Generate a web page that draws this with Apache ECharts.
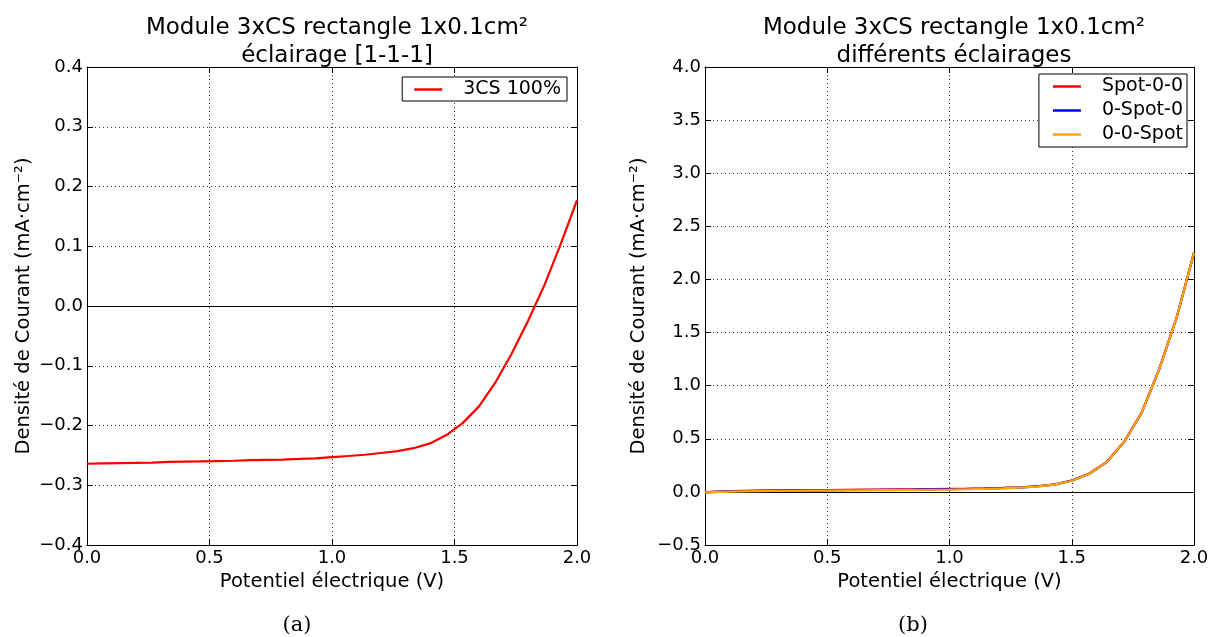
<!DOCTYPE html>
<html>
<head>
<meta charset="utf-8">
<script src="https://cdn.jsdelivr.net/npm/echarts@6/dist/echarts.min.js"></script>
<style>
  html, body { margin: 0; padding: 0; background: #fff; }
  #chart { width: 1213px; height: 637px; }
</style>
</head>
<body>
<div id="chart"></div>
<script>
// Panel (a): illumination [1-1-1], voltage steps of 1/15 V
const voltageA = [0, 0.067, 0.133, 0.2, 0.267, 0.333, 0.4, 0.467, 0.533, 0.6,
  0.667, 0.733, 0.8, 0.867, 0.933, 1.0, 1.067, 1.133, 1.2, 1.267,
  1.333, 1.4, 1.467, 1.533, 1.6, 1.667, 1.733, 1.8, 1.867, 1.933, 2.0];
const current3CS = [-0.264, -0.2635, -0.263, -0.2625, -0.262, -0.261, -0.2605, -0.260, -0.2595, -0.259,
  -0.258, -0.2575, -0.257, -0.256, -0.255, -0.253, -0.251, -0.249, -0.246, -0.243,
  -0.238, -0.230, -0.216, -0.196, -0.168, -0.128, -0.080, -0.025, 0.035, 0.103, 0.177];

// Panel (b): different illuminations, voltage steps of 1/14 V
const voltageB = [0, 0.071, 0.143, 0.214, 0.286, 0.357, 0.429, 0.5, 0.571, 0.643,
  0.714, 0.786, 0.857, 0.929, 1.0, 1.071, 1.143, 1.214, 1.286, 1.357,
  1.429, 1.5, 1.571, 1.643, 1.714, 1.786, 1.857, 1.929, 2.0];
const currentSpot00 = [-0.003, 0.004, 0.009, 0.012, 0.014, 0.016, 0.017, 0.018, 0.020, 0.021,
  0.022, 0.023, 0.024, 0.026, 0.028, 0.030, 0.033, 0.037, 0.043, 0.053,
  0.070, 0.107, 0.171, 0.281, 0.471, 0.746, 1.151, 1.641, 2.251];
const current0Spot0 = [-0.004, 0.002, 0.006, 0.009, 0.011, 0.013, 0.014, 0.015, 0.017, 0.018,
  0.019, 0.020, 0.021, 0.023, 0.025, 0.027, 0.030, 0.035, 0.041, 0.051,
  0.069, 0.106, 0.170, 0.280, 0.470, 0.745, 1.150, 1.640, 2.250];
const current00Spot = [-0.005, 0.000, 0.004, 0.007, 0.009, 0.010, 0.011, 0.012, 0.014, 0.015,
  0.016, 0.017, 0.018, 0.020, 0.022, 0.025, 0.028, 0.033, 0.040, 0.050,
  0.068, 0.105, 0.170, 0.280, 0.470, 0.745, 1.150, 1.640, 2.250];

const titleLine1 = 'Module 3xCS rectangle 1x0.1cm²';
const titleA = 'éclairage [1-1-1]';
const titleB = 'différents éclairages';
const xName = 'Potentiel électrique (V)';
const yName = 'Densité de Courant (mA·cm⁻²)';

const FONT = 'DejaVu Sans';
const pairs = (xs, ys) => xs.map((x, i) => [x, ys[i]]);
const fmt = v => v.toFixed(1).replace('-', '\u2212');

const gridA = { left: 87, top: 67, width: 490, height: 478 };
const gridB = { left: 705, top: 67, width: 489, height: 478 };

function mainX(gi) {
  return {
    type: 'value', gridIndex: gi, min: 0, max: 2, interval: 0.5,
    name: xName, nameLocation: 'middle', nameGap: 23,
    nameTextStyle: { fontFamily: FONT, fontSize: 19.5, color: '#000' },
    axisLine: { show: true, onZero: false, lineStyle: { color: '#000', width: 1 } },
    axisTick: { show: true, inside: true, length: 6, lineStyle: { color: '#000' } },
    axisLabel: { fontFamily: FONT, fontSize: 18, color: '#000', margin: 4, formatter: fmt },
    splitLine: { show: true, lineStyle: { color: '#333', type: [1, 3], width: 1 } }
  };
}
function topX(gi) {
  return {
    type: 'value', gridIndex: gi, position: 'top', min: 0, max: 2, interval: 0.5,
    axisLine: { show: true, onZero: false, lineStyle: { color: '#000', width: 1 } },
    axisTick: { show: true, inside: true, length: 6, lineStyle: { color: '#000' } },
    axisLabel: { show: false }, splitLine: { show: false }
  };
}
function mainY(gi, min, max, interval, gap) {
  return {
    type: 'value', gridIndex: gi, min: min, max: max, interval: interval,
    name: yName, nameLocation: 'middle', nameGap: gap, nameRotate: 90,
    nameTextStyle: { fontFamily: FONT, fontSize: 19.5, color: '#000' },
    axisLine: { show: true, onZero: false, lineStyle: { color: '#000', width: 1 } },
    axisTick: { show: true, inside: true, length: 6, lineStyle: { color: '#000' } },
    axisLabel: { fontFamily: FONT, fontSize: 18, color: '#000', margin: 4, formatter: fmt },
    splitLine: { show: true, lineStyle: { color: '#333', type: [1, 3], width: 1 } }
  };
}
function rightY(gi, min, max, interval) {
  return {
    type: 'value', gridIndex: gi, position: 'right', min: min, max: max, interval: interval,
    axisLine: { show: true, onZero: false, lineStyle: { color: '#000', width: 1 } },
    axisTick: { show: true, inside: true, length: 6, lineStyle: { color: '#000' } },
    axisLabel: { show: false }, splitLine: { show: false }
  };
}

const zeroLine = {
  silent: true, symbol: 'none', label: { show: false },
  lineStyle: { color: '#000', width: 1, type: 'solid' },
  data: [{ yAxis: 0 }]
};

function lineSeries(name, xi, yi, data, color, z, withZero) {
  const s = {
    name: name, type: 'line', xAxisIndex: xi, yAxisIndex: yi,
    data: data, showSymbol: false, symbol: 'none', z: z,
    lineStyle: { color: color, width: 2.2 }, itemStyle: { color: color },
    animation: false
  };
  if (withZero) s.markLine = zeroLine;
  return s;
}

const legendCommon = {
  orient: 'vertical', backgroundColor: '#fff', borderColor: '#000', borderWidth: 1,
  icon: 'rect', itemWidth: 28, itemHeight: 2.5,
  textStyle: { fontFamily: FONT, fontSize: 19, color: '#000', padding: [0, 0, 0, 16] },
  selectedMode: false
};

const option = {
  animation: false,
  backgroundColor: '#fff',
  title: [
    { text: titleLine1 + '\n' + titleA, left: 332, top: 9, textAlign: 'center',
      textStyle: { fontFamily: FONT, fontSize: 23, fontWeight: 'normal', color: '#000', lineHeight: 28 } },
    { text: titleLine1 + '\n' + titleB, left: 949, top: 9, textAlign: 'center',
      textStyle: { fontFamily: FONT, fontSize: 23, fontWeight: 'normal', color: '#000', lineHeight: 28 } }
  ],
  legend: [
    Object.assign({}, legendCommon, { data: ['3CS 100%'], right: 646, top: 77, itemGap: 3, padding: [3, 6, 2, 12] }),
    Object.assign({}, legendCommon, { data: ['Spot-0-0', '0-Spot-0', '0-0-Spot'], right: 26, top: 74, itemGap: 5, padding: [3, 4, 3, 14] })
  ],
  grid: [gridA, gridB],
  xAxis: [mainX(0), topX(0), mainX(1), topX(1)],
  yAxis: [mainY(0, -0.4, 0.4, 0.1, 53), rightY(0, -0.4, 0.4, 0.1),
          mainY(1, -0.5, 4.0, 0.5, 56), rightY(1, -0.5, 4.0, 0.5)],
  series: [
    lineSeries('3CS 100%', 0, 0, pairs(voltageA, current3CS), '#ff0000', 5, true),
    lineSeries('Spot-0-0', 2, 2, pairs(voltageB, currentSpot00), '#ff0000', 3, true),
    lineSeries('0-Spot-0', 2, 2, pairs(voltageB, current0Spot0), '#0000ff', 4, false),
    lineSeries('0-0-Spot', 2, 2, pairs(voltageB, current00Spot), '#ffa500', 5, false)
  ],
  graphic: [
    { type: 'text', x: 297, y: 626, style: { text: '(a)', fontFamily: 'DejaVu Serif', fontSize: 21, fill: '#000', align: 'center', verticalAlign: 'middle' } },
    { type: 'text', x: 913, y: 626, style: { text: '(b)', fontFamily: 'DejaVu Serif', fontSize: 21, fill: '#000', align: 'center', verticalAlign: 'middle' } }
  ]
};

const chart = echarts.init(document.getElementById('chart'), null, { renderer: 'canvas' });
chart.setOption(option);
</script>
</body>
</html>
